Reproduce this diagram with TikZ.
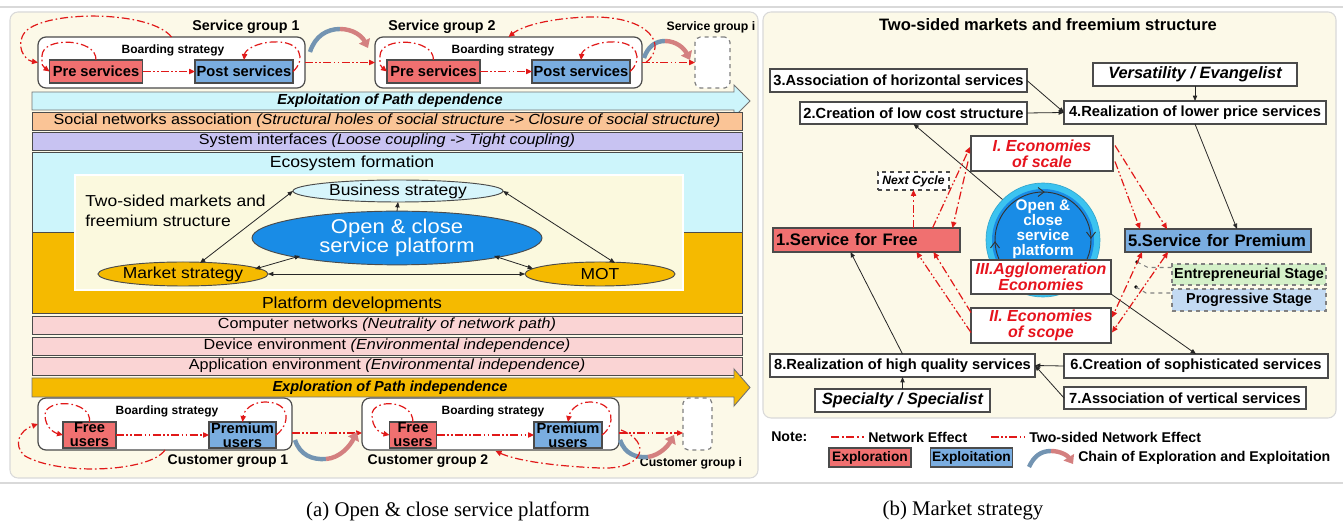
\documentclass[tikz,border=0pt]{standalone}
\usepackage{fontspec}
\setmainfont{Liberation Sans}
\newfontfamily\widef[FakeStretch=1.1]{Liberation Sans}
\newfontfamily\capf{Liberation Serif}
\usetikzlibrary{arrows.meta,shapes.geometric,calc}
\newcommand\fsz[2]{\fontsize{#1}{#2}\selectfont}
\definecolor{cream}{RGB}{252,249,232}
\definecolor{redf}{RGB}{240,112,112}
\definecolor{bluef}{RGB}{122,173,224}
\definecolor{cyanf}{RGB}{205,245,251}
\definecolor{orangef}{RGB}{250,196,150}
\definecolor{lavf}{RGB}{200,195,242}
\definecolor{goldf}{RGB}{245,186,0}
\definecolor{pinkf}{RGB}{250,212,212}
\definecolor{platf}{RGB}{25,140,230}
\definecolor{ringf}{RGB}{60,195,240}
\definecolor{netred}{RGB}{225,25,25}
\definecolor{txtred}{RGB}{230,20,30}
\definecolor{greenf}{RGB}{212,240,200}
\definecolor{progf}{RGB}{195,218,242}
\definecolor{innerf}{RGB}{251,249,222}
\definecolor{busf}{RGB}{215,245,251}
\definecolor{chainbc}{RGB}{115,148,178}
\definecolor{chainpc}{RGB}{212,128,128}
\definecolor{edge}{RGB}{75,75,75}
\tikzset{
  sz/.style 2 args={minimum width=#1*0.75pt, minimum height=#2*0.75pt},
  wbox/.style={draw=edge, line width=0.8pt, fill=white, inner sep=0pt, outer sep=0pt, font=\bfseries\fsz{11}{12}},
  rbox/.style={wbox, fill=redf},
  ubox/.style={wbox, fill=bluef},
  grp/.style={draw=edge, line width=0.9pt, fill=white, rounded corners=6pt, inner sep=0pt, outer sep=0pt},
  dgrp/.style={draw=gray, dashed, line width=0.9pt, fill=white, rounded corners=4pt, inner sep=0pt, outer sep=0pt},
  redtip/.tip={Triangle[length=4.5pt,width=4pt]},
  netL/.style={draw=netred, line width=0.9pt, dash pattern=on 6pt off 2.2pt on 1.2pt off 2.2pt},
  twoL/.style={draw=netred, line width=0.9pt, dash pattern=on 6pt off 1.8pt on 1.2pt off 1.8pt on 1.2pt off 1.8pt},
  netA/.style={netL, -redtip},
  netB/.style={twoL, -redtip},
  netAD/.style={netL, redtip-redtip},
  netBD/.style={twoL, redtip-redtip},
  blktip/.tip={Triangle[length=4pt,width=3.2pt]},
  blkA/.style={draw=black!85, line width=0.6pt, -blktip},
  blkD/.style={draw=black!85, line width=0.6pt, blktip-blktip},
  barS/.style={draw=edge, line width=0.7pt, inner sep=0pt, outer sep=0pt, font=\widef\fsz{11}{12}},
  chainB/.style={draw=chainbc, line width=3.3pt},
  chainP/.style={draw=chainpc, line width=3.3pt, -{Triangle[length=6pt,width=9pt]}},
  redtxt/.style={wbox, text=txtred, align=center, font=\bfseries\itshape\fsz{12}{12}},
  ell/.style={ellipse, draw=edge, line width=0.7pt, inner sep=0pt, outer sep=0pt, font=\widef\fsz{11.9}{13}},
  lbl/.style={font=\bfseries\fsz{10.6}{12}, inner sep=0pt}
}
\begin{document}
\begin{tikzpicture}[x=0.75pt,y=-0.75pt]
\useasboundingbox (0,0) rectangle (1343,523);
\fill[white] (0,0) rectangle (1343,523);
\draw[black!15, line width=0.8pt] (0,7) -- (1343,7);
\draw[black!15, line width=0.8pt] (0,483) -- (1343,483);
\draw[black!15, line width=0.8pt, fill=cream, rounded corners=6pt] (10,12) rectangle (758,478);
\draw[black!15, line width=0.8pt, fill=cream, rounded corners=6pt] (763,12) rectangle (1336,418);

% ===== Left panel: service groups =====
\node[grp, sz={267}{51}] (g1) at (171.5,62.5) {};
\node[font=\bfseries\fsz{10.7}{12}] (sg1) at (246,27) {Service group 1};
\node[font=\bfseries\fsz{9}{10}] (bs1) at (173,50) {Boarding strategy};
\node[rbox, sz={93}{23}] (pre1) at (96,71.5) {Pre services};
\node[ubox, sz={98}{23}] (post1) at (244,71.5) {Post services};
\draw[netB] (pre1) -- (post1);
\draw[netA] (pre1.north) .. controls (97,38) and (42,36) .. (42,56) .. controls (42,66) .. (pre1.west);
\draw[netA] (post1.east) .. controls (306,60) and (302,40) .. (272,42) .. controls (256,43) and (245,50) .. (post1.north);
\draw[netA] (g1.north) .. controls (150,10) and (45,10) .. (25,32) .. controls (15,45) and (24,60) .. (g1.west);

\node[grp, sz={267}{51}] (g2) at (508.5,62.5) {};
\node[font=\bfseries\fsz{10.7}{12}] (sg2) at (442,27) {Service group 2};
\node[font=\bfseries\fsz{9}{10}] (bs2) at (503,50) {Boarding strategy};
\node[rbox, sz={93}{23}] (pre2) at (433.5,71.5) {Pre services};
\node[ubox, sz={98}{23}] (post2) at (581,71.5) {Post services};
\draw[netB] (pre2) -- (post2);
\draw[netA] (pre2.north) .. controls (434,38) and (380,36) .. (380,56) .. controls (380,66) .. (pre2.west);
\draw[netA] (post2.east) .. controls (643,60) and (639,40) .. (609,42) .. controls (593,43) and (582,50) .. (post2.north);
\draw[netB] (g1.east) -- (g2.west);
\draw[chainB] (310,52) .. controls (315,36) and (327,29) .. (340,29);
\draw[chainP] (340,29) .. controls (353,29) and (362,36) .. (368,48);

\node[dgrp, sz={35}{51}] (gi1) at (712.5,62.5) {};
\node[font=\bfseries\fsz{9.2}{10}] (sgi) at (711,27) {Service group i};
\draw[netB] (g2.east) -- (gi1.west);
\draw[chainB] (644,58) .. controls (648,46) and (656,41) .. (665,41);
\draw[chainP] (665,41) .. controls (676,41) and (684,48) .. (690,60);
\draw[netA] ($(g2.east)+(4,0)$) .. controls (668,45) and (650,16) .. (590,17) .. controls (550,18) and (522,26) .. (g2.north);

% ===== bars =====
\path[draw=black!55, line width=0.7pt, fill=cyanf] (32,92) -- (734,92) -- (734,85) -- (750,101) -- (734,117) -- (734,110) -- (32,110) -- cycle;
\node[font=\bfseries\itshape\fsz{10.9}{12}] (expl) at (390,101) {Exploitation of Path dependence};
\node[barS, fill=orangef, sz={710}{18}] (soc) at (387,121) {Social networks association \textit{(Structural holes of social structure -> Closure of social structure)}};
\node[barS, fill=lavf, sz={710}{18}] (sys) at (387,141) {System interfaces \textit{(Loose coupling -> Tight coupling)}};
\path[draw=edge, line width=0.7pt, fill=cyanf] (32,152) rectangle (742,232);
\path[draw=edge, line width=0.7pt, fill=goldf] (32,232) rectangle (742,313);
\node[font=\widef\fsz{12}{13}] (eco) at (352,163) {Ecosystem formation};
\node[font=\widef\fsz{12}{13}] (pdev) at (352,304) {Platform developments};
\node[draw=black!50, double=white, double distance=1.2pt, fill=innerf, sz={608}{115}, inner sep=0pt] (inner) at (379,232.5) {};
\node[font=\widef\fsz{11.9}{15}, align=left, anchor=west, inner sep=0pt] (tsm) at (85,210.5) {Two-sided markets and\\freemium structure};
\node[ell, fill=busf, sz={210}{22}] (bus) at (398,191) {Business strategy};
\node[ell, fill=platf, sz={290}{48}, text=white, align=center, font=\widef\fsz{15}{14.5}] (open) at (397,238) {Open \& close\\service platform};
\node[ell, fill=goldf, sz={160}{24}] (mkt) at (183,274) {Market strategy};
\node[ell, fill=goldf, sz={150}{24}] (mot) at (600,274) {MOT};
\draw[blkA] (open.north) -- (bus.south);
\draw[blkD] (bus.west) -- ($(mkt.north)+(17,1)$);
\draw[blkD] (bus.east) -- ($(mot.north)+(15,1)$);
\draw[blkD] ($(open.center)+(-97,18)$) -- ($(mkt.center)+(72,-5)$);
\draw[blkD] ($(open.center)+(97,18)$) -- ($(mot.center)+(-67,-5.4)$);
\draw[blkD] (mkt.east) -- (mot.west);
\node[barS, fill=pinkf, sz={710}{18}] (comp) at (387,325) {Computer networks \textit{(Neutrality of network path)}};
\node[barS, fill=pinkf, sz={710}{18}] (dev) at (387,346) {Device environment \textit{(Environmental independence)}};
\node[barS, fill=pinkf, sz={710}{18}] (app) at (387,366) {Application environment \textit{(Environmental independence)}};
\path[draw=black!55, line width=0.7pt, fill=goldf] (32,378) -- (734,378) -- (734,369) -- (750,387.5) -- (734,406) -- (734,397) -- (32,397) -- cycle;
\node[font=\bfseries\itshape\fsz{10.9}{12}] (explo) at (390,388) {Exploration of Path independence};

% ===== customer groups =====
\node[grp, sz={254}{52}] (cg1) at (165,424) {};
\node[font=\bfseries\fsz{9}{10}] (cbs1) at (167,411) {Boarding strategy};
\node[rbox, sz={53}{26}, align=center, font=\bfseries\fsz{11}{10.5}] (free1) at (89.5,435) {Free\\users};
\node[ubox, sz={67}{26}, align=center, font=\bfseries\fsz{11}{10.5}] (prem1) at (242.5,435) {Premium\\users};
\draw[netB] (free1) -- (prem1);
\draw[netA] (free1.north) .. controls (92,400) and (45,398) .. (45,415) .. controls (45,428) and (55,433) .. (free1.west);
\draw[netA] (prem1.east) .. controls (290,425) and (292,402) .. (265,402) .. controls (252,402) and (244,410) .. (prem1.north);
\draw[netA] (cg1.south) .. controls (150,472) and (60,476) .. (25,456) .. controls (12,445) and (20,430) .. (cg1.west);
\node[font=\bfseries\fsz{10.5}{12}] (cgl1) at (228,461) {Customer group 1};

\node[grp, sz={257}{52}] (cg2) at (490.5,424) {};
\node[font=\bfseries\fsz{9}{10}] (cbs2) at (493,411) {Boarding strategy};
\node[rbox, sz={47}{26}, align=center, font=\bfseries\fsz{11}{10.5}] (free2) at (413,435) {Free\\users};
\node[ubox, sz={68}{26}, align=center, font=\bfseries\fsz{11}{10.5}] (prem2) at (568,435) {Premium\\users};
\draw[netB] (free2) -- (prem2);
\draw[netA] (free2.north) .. controls (413,400) and (372,398) .. (372,415) .. controls (372,428) and (380,433) .. (free2.west);
\draw[netA] (prem2.east) .. controls (616,425) and (615,402) .. (590,402) .. controls (578,402) and (570,410) .. (prem2.north);
\node[font=\bfseries\fsz{10.5}{12}] (cgl2) at (428,461) {Customer group 2};
\draw[netB] ($(cg1.east)+(0,9)$) -- ($(cg2.west)+(0,9)$);
\draw[chainB] (295,440) .. controls (300,455) and (312,460) .. (326,459);
\draw[chainP] (326,459) .. controls (340,458) and (350,446) .. (357,432);

\node[dgrp, sz={29}{52}] (gi2) at (697.5,424) {};
\node[font=\bfseries\fsz{9.2}{10}] (cgli) at (691,463) {Customer group i};
\draw[netB] ($(cg2.east)+(0,9)$) -- ($(gi2.west)+(0,9)$);
\draw[chainB] (620,440) .. controls (625,454) and (636,458) .. (648,457);
\draw[chainP] (648,457) .. controls (660,455) and (668,446) .. (674,435);
\draw[netA] ($(cg2.east)+(2,6)$) .. controls (652,442) and (645,470) .. (600,468) .. controls (550,466) and (515,460) .. ($(cg2.south)+(5,1)$);

% ===== Right panel =====
\node[font=\bfseries\fsz{12.4}{14}] (rtitle) at (1048,25) {Two-sided markets and freemium structure};
\node[wbox, sz={257}{23}] (b3) at (898.5,80.5) {3.Association of horizontal services};
\node[wbox, sz={227}{22}] (b2) at (913.5,113) {2.Creation of low cost structure};
\node[wbox, sz={262}{23}] (b4) at (1195,112.5) {4.Realization of lower price services};
\node[wbox, sz={204}{23}, font=\bfseries\itshape\fsz{12.3}{13}] (vers) at (1195,74.5) {Versatility / Evangelist};
\node[redtxt, sz={142}{35}] (eI) at (1042,153.5) {I. Economies\\of scale};

\node[circle, fill=ringf, draw=ringf!85!black, line width=0.5pt, minimum size=85.5pt, inner sep=0pt] (circ) at (1043,240) {};
\fill[platf] (circ.center) circle (38.25pt);
\draw[black!80, line width=0.7pt] (circ.center) circle (36pt);
\draw[black!80, line width=0.7pt] (1038,187.5) -- (1044,192) -- (1038,196.5);
\draw[black!80, line width=0.7pt] (1086.5,232) -- (1091,238) -- (1095.5,232);
\draw[black!80, line width=0.7pt] (990.5,248) -- (995,242) -- (999.5,248);
\node[font=\bfseries\fsz{11.5}{11.25}, text=white, align=center] (circt) at (1043,229.5) {Open \&\\close\\service\\platform};

\node[redtxt, sz={140}{34}] (eIII) at (1041,277) {III.Agglomeration\\Economies};
\node[redtxt, sz={140}{35}] (eII) at (1041,325.5) {II. Economies\\of scope};
\node[rbox, sz={187}{24}, font=\bfseries\fsz{12.5}{13}, text width=181*0.75pt, inner xsep=3*0.75pt, align=left] (free) at (866.5,240) {1.Service for Free};
\node[ubox, sz={186}{23}, font=\bfseries\fsz{12.5}{13}, text width=180*0.75pt, inner xsep=3*0.75pt, align=left] (prem) at (1218,240.5) {5.Service for Premium};
\node[wbox, dashed, sz={71}{18}, font=\bfseries\itshape\fsz{9.1}{10}] (nc) at (913.5,181) {Next Cycle};
\node[wbox, dashed, draw=gray, fill=greenf, sz={154}{21}, font=\bfseries\fsz{10.8}{12}] (ent) at (1249,274.5) {Entrepreneurial Stage};
\node[wbox, dashed, draw=gray, fill=progf, sz={154}{22}, font=\bfseries\fsz{10.8}{12}] (prog) at (1249,300) {Progressive Stage};
\node[wbox, sz={264}{24}] (b6) at (1196,366) {6.Creation of sophisticated services};
\node[wbox, sz={242}{22}] (b7) at (1185,398) {7.Association of vertical services};
\node[wbox, sz={265}{23}] (b8) at (902.5,365.5) {8.Realization of high quality services};
\node[wbox, sz={175}{23}, font=\bfseries\itshape\fsz{12.2}{13}] (spec) at (902.5,400.5) {Specialty / Specialist};

\coordinate (d1) at (1137,262);
\coordinate (d2) at (1136,287);
\fill[black] (d1) circle (1.4pt);
\fill[black] (d2) circle (1.4pt);
\draw[gray, dashed, line width=0.8pt] (d1) -- (1148,267.5) -- ($(ent.west)+(0,-7)$);
\draw[gray, dashed, line width=0.8pt] (d2) -- (1146,293) -- ($(prog.west)+(0,-7)$);

\draw[blkA] (vers.south) -- (b4.north);
\draw[blkA] (b3.east) -- (b4.west);
\draw[blkA] (b2.east) -- (b4.west);
\draw[blkA] (circ.135) -- (b2.south);
\draw[blkA] (b4.south) -- ($(prem.north)+(19,0)$);
\draw[blkA] (eIII.south east) -- (b6.north);
\draw[blkA] (b6.west) -- (b8.east);
\draw[blkA] (b7.west) -- (b8.east);
\draw[blkA] (spec.north) -- (b8.south);
\draw[blkA] (b8.north) -- ($(free.south)+(-16,0)$);

\draw[netA] (nc.south |- free.north) -- (nc.south);
\draw[netB] ($(free.north)+(66,0)$) -- ($(eI.west)+(-1,-6.5)$);
\draw[netA] ($(eI.west)+(-3,8)$) -- ($(free.north)+(86,0)$);
\draw[netA] ($(eI.east)+(2,-8)$) -- ($(prem.north)+(-51,0)$);
\draw[netB] ($(eI.east)+(2,8)$) -- ($(prem.north)+(-78,0)$);
\draw[netAD] ($(prem.south)+(-76,0)$) -- ($(eII.east)+(1,-8)$);
\draw[netBD] ($(prem.south)+(-50,0)$) -- ($(eII.east)+(1,7)$);
\draw[netA] ($(eII.west)+(0,-13)$) -- ($(free.south)+(67,0)$);
\draw[netB] ($(eII.west)+(0,7)$) -- ($(free.south)+(50,0)$);

% ===== Legend =====
\node[lbl, anchor=west] (note) at (771,437) {Note:};
\coordinate (l1a) at (831,437);
\coordinate (l1b) at (864,437);
\draw[netL] (l1a) -- (l1b);
\node[lbl, anchor=west] (l1t) at (868,437) {Network Effect};
\coordinate (l2a) at (991,437);
\coordinate (l2b) at (1027,437);
\draw[twoL] (l2a) -- (l2b);
\node[lbl, anchor=west] (l2t) at (1029,437) {Two-sided Network Effect};
\node[rbox, sz={82}{19}, font=\bfseries\fsz{10.3}{12}] (lexr) at (870,457.5) {Exploration};
\node[ubox, sz={82}{19}, font=\bfseries\fsz{10.3}{12}] (lexb) at (971.5,457.5) {Exploitation};
\draw[chainB] (1029,467) .. controls (1034,456) and (1041,451) .. (1051,451);
\draw[chainP] (1051,451) .. controls (1061,451) and (1068,456) .. (1073,464);
\node[lbl, anchor=west] (lch) at (1078,457.5) {Chain of Exploration and Exploitation};

\node[font=\capf\fsz{15.6}{18}] (capa) at (448,511) {(a) Open \& close service platform};
\node[font=\capf\fsz{15.6}{18}] (capb) at (963,511) {(b) Market strategy};
\end{tikzpicture}
\end{document}
